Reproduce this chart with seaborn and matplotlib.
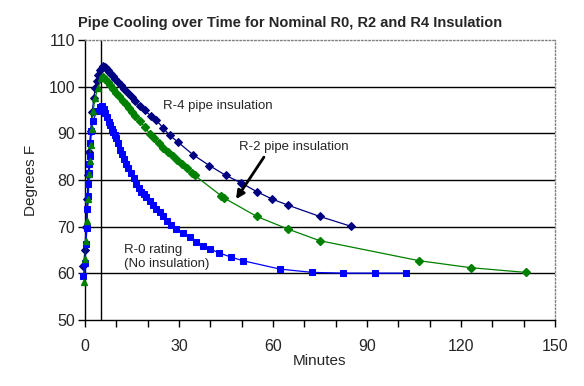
import numpy as np
import pandas as pd
import matplotlib
matplotlib.use('Agg')
import matplotlib.pyplot as plt
import seaborn as sns

# ---- dados (minutos, graus F) ----
r4_min = [-0.5, 0.0, 0.3, 0.7, 1.0, 1.4, 1.8, 2.3, 2.8, 3.3, 3.8, 4.3, 4.8, 5.3, 5.8,
          6.3, 6.8, 7.3, 7.8, 8.4, 9.0, 9.7, 10.5, 11.5, 12.5, 13.8, 15.0, 16.0, 17.5,
          19.0, 21.0, 22.8, 25.0, 27.0, 29.7, 34.5, 39.7, 44.9, 49.8, 54.8, 59.8,
          64.8, 74.9, 84.8]
r4_degF = [61.6, 65.0, 70.0, 76.0, 81.0, 86.0, 90.5, 94.5, 97.5, 99.8, 101.3, 102.6,
           103.5, 104.1, 104.4, 104.3, 104.0, 103.6, 103.2, 102.7, 102.2, 101.7, 101.1,
           100.4, 99.6, 98.6, 97.7, 96.9, 95.8, 94.9, 93.8, 92.8, 91.1, 89.6, 88.1,
           85.4, 83.1, 81.0, 79.4, 77.5, 75.9, 74.6, 72.2, 70.1]

r2_rise_min = [-0.3, 0.0, 0.35, 0.7, 1.0, 1.4, 1.6, 1.8, 2.1, 2.6, 3.2, 4.2, 5.2]
r2_rise_degF = [58.2, 63.0, 67.0, 71.2, 76.0, 81.2, 84.1, 87.5, 91.0, 94.8, 97.6, 99.8, 101.8]
r2_fall_min = [5.8, 6.5, 7.2, 8.0, 9.0, 10.0, 11.0, 12.0, 13.0, 14.0, 15.0, 16.0, 17.5,
               19.0, 20.7, 22.0, 23.5, 25.0, 26.5, 28.0, 29.5, 31.0, 32.5, 34.0, 35.0,
               43.5, 44.5, 54.8, 64.7, 74.9, 106.7, 123.2, 140.7]
r2_fall_degF = [102.1, 101.6, 101.0, 100.3, 99.5, 98.7, 97.9, 97.0, 96.2, 95.4, 94.6,
                93.8, 92.7, 91.4, 89.9, 88.9, 87.9, 86.9, 86.0, 85.2, 84.3, 83.4, 82.5,
                81.6, 81.0, 76.6, 76.1, 72.2, 69.5, 67.0, 62.7, 61.2, 60.2]

r0_min = [-0.5, 0.0, 0.3, 0.6, 0.75, 0.95, 1.1, 1.25, 1.35, 1.45, 1.6, 1.9, 2.6, 3.7,
          4.8, 5.5, 6.0, 6.5, 7.0, 7.5, 8.0, 8.5, 9.0, 9.5, 10.0, 10.5, 11.1, 11.7,
          12.3, 13.0, 13.7, 14.8, 15.6, 16.4, 17.2, 18.0, 18.8, 19.6, 20.6, 21.6,
          22.7, 23.8, 25.0, 26.2, 27.6, 29.1, 31.2, 33.4, 35.5, 37.6, 40.0, 42.7,
          46.5, 50.4, 62.3, 72.6, 82.4, 92.6, 102.5]
r0_degF = [59.4, 62.3, 66.2, 69.8, 73.7, 76.6, 79.1, 81.6, 83.4, 85.2, 88.0, 90.5,
           92.6, 94.8, 95.6, 95.8, 95.2, 94.3, 93.4, 92.5, 91.7, 91.0, 90.3, 89.7,
           88.9, 88.0, 86.5, 85.6, 84.6, 83.5, 82.5, 81.6, 80.4, 79.2, 78.3, 77.5,
           76.9, 76.3, 75.5, 74.6, 73.8, 73.1, 72.2, 71.3, 70.4, 69.5, 68.6, 67.7,
           66.8, 65.9, 65.2, 64.4, 63.5, 62.7, 60.9, 60.2, 60.05, 60.05, 60.05]

linha_vertical_min = 5.2
x_ticks = [0, 30, 60, 90, 120, 150]
y_ticks = [50, 60, 70, 80, 90, 100, 110]

# ---- estilo ----
sns.set_style('white')
plt.rcParams['font.family'] = ['Liberation Sans', 'DejaVu Sans']

AZUL_ESCURO = '#000080'
AZUL = '#0000FF'
VERDE = '#008000'

fig = plt.figure(figsize=(5.84, 3.86), dpi=100)
ax = fig.add_axes([85 / 584, 66 / 386, 470 / 584, 280 / 386])

# grade horizontal preta
for y in y_ticks[1:-1]:
    ax.axhline(y, color='black', lw=1.0, zorder=1)
ax.axvline(linha_vertical_min, color='black', lw=1.0, zorder=1)

# R-4
sns.lineplot(x=r4_min, y=r4_degF, ax=ax, color=AZUL_ESCURO, lw=0.9, marker='D',
             markersize=4, markeredgecolor=AZUL_ESCURO, estimator=None, sort=False,
             zorder=3, clip_on=False)

# R-2 (linha unica, marcadores diferentes na subida e na descida)
r2_min = r2_rise_min + r2_fall_min
r2_degF = r2_rise_degF + r2_fall_degF
sns.lineplot(x=r2_min, y=r2_degF, ax=ax, color=VERDE, lw=0.9, estimator=None,
             sort=False, zorder=3, clip_on=False)
ax.plot(r2_rise_min, r2_rise_degF, ls='none', marker='^', ms=5, color=VERDE,
        zorder=4, clip_on=False)
ax.plot(r2_fall_min, r2_fall_degF, ls='none', marker='D', ms=4, color=VERDE,
        zorder=4, clip_on=False)

# R-0
sns.lineplot(x=r0_min, y=r0_degF, ax=ax, color=AZUL, lw=0.9, marker='s',
             markersize=4.5, markeredgecolor=AZUL, estimator=None, sort=False,
             zorder=3, clip_on=False)

ax.set_xlim(0, 150)
ax.set_ylim(50, 110)
ax.set_xticks(x_ticks)
ax.set_xticks(np.arange(0, 151, 10), minor=True)
ax.set_yticks(y_ticks)

for lado in ['left', 'bottom']:
    ax.spines[lado].set_color('black')
    ax.spines[lado].set_linewidth(1.0)
for lado in ['top', 'right']:
    ax.spines[lado].set_color('#808080')
    ax.spines[lado].set_linestyle(':')
    ax.spines[lado].set_linewidth(1.0)

ax.tick_params(axis='both', which='both', direction='out', color='black', width=1.0,
               length=5, labelsize=11.5)
ax.tick_params(axis='x', which='both', bottom=True, pad=9)
ax.tick_params(axis='y', which='both', left=True, pad=2)

ax.set_xlabel('Minutes', fontsize=11, labelpad=0)
ax.set_ylabel('Degrees F', fontsize=11, labelpad=8)

# anotacoes
ax.text(24.9, 95.9, 'R-4 pipe insulation', fontsize=9.5, va='center', ha='left')
ax.text(49.2, 87.1, 'R-2 pipe insulation', fontsize=9.5, va='center', ha='left')
ax.text(12.4, 63.5, 'R-0 rating\n(No insulation)', fontsize=9.5, va='center',
        ha='left', linespacing=1.15)
ax.annotate('', xy=(48.2, 75.9), xytext=(57.1, 84.9),
            arrowprops=dict(arrowstyle='-|>', color='black', lw=2.0,
                            mutation_scale=12, shrinkA=0, shrinkB=0))

fig.text(0.497, 0.94, 'Pipe Cooling over Time for Nominal R0, R2 and R4 Insulation',
         ha='center', va='center', fontsize=10.5, fontweight='bold')

fig.savefig('out.png', dpi=100)
